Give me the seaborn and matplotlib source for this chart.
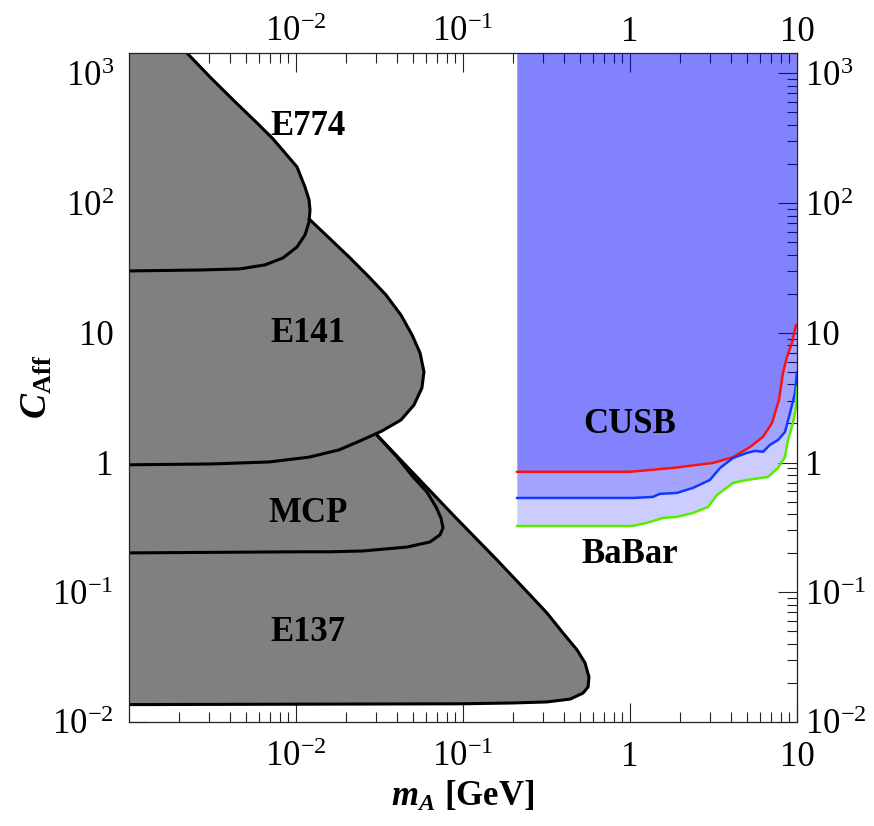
import numpy as np
import matplotlib
matplotlib.use("Agg")
import matplotlib.pyplot as plt
from matplotlib.transforms import ScaledTranslation
import seaborn as sns

# axis range
X_MIN, X_MAX = 1e-3, 10
Y_MIN, Y_MAX = 1e-2, 1.44e3

# ---- beam dump regions (boundary) ----
e774_m = [0.00222, 0.00305, 0.00420, 0.00584, 0.00728, 0.00859, 0.01014, 0.01132, 0.01197, 0.01213,
          0.01197, 0.01132, 0.01014, 0.00836, 0.00652, 0.00462, 0.00266, 0.001]
e774_c = [1440, 940, 625, 415, 313, 244, 190, 133, 106, 88.7,
          71.6, 56.9, 45.9, 37.8, 33.4, 31.1, 30.5, 30.0]

e141_m = [0.01197, 0.01578, 0.02076, 0.02733, 0.03457, 0.04254, 0.04955, 0.05531, 0.05838, 0.05675,
          0.05090, 0.04254, 0.03272, 0.02483, 0.01806, 0.01197, 0.00689, 0.00314, 0.001]
e141_c = [75.5, 53.9, 38.5, 27.0, 19.6, 13.7, 9.63, 7.0, 5.0, 3.76,
          2.78, 2.13, 1.75, 1.49, 1.25, 1.10, 1.01, 0.975, 0.96]

mcp_m = [0.0305, 0.0403, 0.0502, 0.0608, 0.0689, 0.0738, 0.0759, 0.0728, 0.0634, 0.0462, 0.0252, 0.0160, 0.0106, 0.001]
mcp_c = [1.63, 1.10, 0.774, 0.593, 0.455, 0.374, 0.313, 0.277, 0.244, 0.223, 0.208, 0.205, 0.205, 0.201]

e137_m = [0.0305, 0.0502, 0.0895, 0.160, 0.252, 0.318, 0.397, 0.482, 0.538, 0.568, 0.561, 0.524, 0.438, 0.318, 0.199, 0.100, 0.001]
e137_c = [1.63, 0.832, 0.381, 0.177, 0.0953, 0.0692, 0.0485, 0.0359, 0.0285, 0.0222, 0.0186, 0.0167, 0.0150, 0.01426, 0.0140, 0.0138, 0.0136]

# ---- collider limits ----
cusb_m = [0.21, 1.0, 1.81, 3.14, 4.14, 5.24, 6.26, 7.09, 7.80, 8.24, 8.71, 9.33, 9.86]
cusb_c = [0.848, 0.848, 0.908, 0.993, 1.10, 1.32, 1.58, 2.02, 3.04, 4.91, 6.52, 8.36, 11.5]

babar1_m = [0.21, 1.04, 1.37, 1.51, 1.91, 2.38, 3.01, 3.46, 4.14, 5.02, 5.61, 6.26, 6.89, 7.69, 8.47, 9.08, 9.73, 10.0]
babar1_c = [0.533, 0.533, 0.543, 0.573, 0.583, 0.637, 0.734, 0.908, 1.085, 1.186, 1.23, 1.21, 1.37, 1.49, 1.72, 2.41, 3.44, 5.0]

babar2_m = [0.21, 1.03, 1.26, 1.58, 1.91, 2.38, 2.93, 3.32, 4.14, 5.02, 6.70, 7.69, 8.47, 8.83, 9.46, 9.86, 10.0]
babar2_c = [0.324, 0.324, 0.342, 0.374, 0.381, 0.408, 0.454, 0.562, 0.696, 0.734, 0.774, 0.908, 1.10, 1.49, 2.02, 2.68, 3.83]

labels = ["E774", "E141", "MCP", "E137", "CUSB", "BaBar"]
label_m = [0.0118, 0.0118, 0.0118, 0.0118, 1.0, 1.0]
label_c = [387, 9.8, 0.408, 0.0485, 1.95, 0.194]

xticks = [1e-2, 1e-1, 1, 10]
xticklabels = [r"$10^{-2}$", r"$10^{-1}$", "1", "10"]
yticks = [1e-2, 1e-1, 1, 10, 1e2, 1e3]
yticklabels = [r"$10^{-2}$", r"$10^{-1}$", "1", "10", r"$10^{2}$", r"$10^{3}$"]

sns.set_theme(style="ticks")
plt.rcParams["font.family"] = ["Liberation Serif", "DejaVu Serif"]
plt.rcParams["mathtext.fontset"] = "custom"
plt.rcParams["mathtext.rm"] = "Liberation Serif"
plt.rcParams["mathtext.it"] = "Liberation Serif:italic"
plt.rcParams["mathtext.bf"] = "Liberation Serif:bold"
plt.rcParams["mathtext.bfit"] = "Liberation Serif:italic:bold"
for k in ["text.color", "axes.labelcolor", "xtick.color", "ytick.color", "axes.edgecolor"]:
    plt.rcParams[k] = "black"

fig = plt.figure(figsize=(8.74, 8.26), dpi=100)
ax = fig.add_axes([0.1476, 0.126, 0.7643, 0.81])

# gray regions: fill, closed along the left edge
gray = "#808080"
regions = [(e774_m, e774_c), (e141_m, e141_c), (mcp_m, mcp_c), (e137_m, e137_c)]
for m, c in regions:
    ax.fill(m + [X_MIN / 2, X_MIN / 2], c + [c[-1], max(c[0], Y_MAX * 2)], color=gray, lw=0, zorder=1)

for m, c in regions:
    sns.lineplot(x=m, y=c, sort=False, estimator=None, color="black", lw=2.2, ax=ax, zorder=3)

# blue regions: three overlapping translucent layers
for m, c in [(babar2_m, babar2_c), (babar1_m, babar1_c), (cusb_m, cusb_c)]:
    ax.fill_between(m, c, Y_MAX * 2, color=(0.0, 0.0, 0.98), alpha=0.2, lw=0, zorder=1)

sns.lineplot(x=cusb_m, y=cusb_c, sort=False, estimator=None, color="#ff1010", lw=1.8, ax=ax, zorder=4)
sns.lineplot(x=babar1_m, y=babar1_c, sort=False, estimator=None, color="#1038ff", lw=1.8, ax=ax, zorder=4)
sns.lineplot(x=babar2_m, y=babar2_c, sort=False, estimator=None, color="#55ee00", lw=1.8, ax=ax, zorder=4)

for t, m, c in zip(labels, label_m, label_c):
    ax.text(m, c, t, ha="center", va="center", fontsize=25, fontweight="bold", zorder=5)

ax.set_xscale("log")
ax.set_yscale("log")
ax.set_xlim(X_MIN, X_MAX)
ax.set_ylim(Y_MIN, Y_MAX)

ax.set_xticks(xticks)
ax.set_xticklabels(xticklabels)
ax.set_yticks(yticks)
ax.set_yticklabels(yticklabels)
ax.xaxis.set_minor_locator(matplotlib.ticker.LogLocator(base=10, subs=np.arange(2, 10), numticks=20))
ax.yaxis.set_minor_locator(matplotlib.ticker.LogLocator(base=10, subs=np.arange(2, 10), numticks=20))
ax.xaxis.set_minor_formatter(matplotlib.ticker.NullFormatter())
ax.yaxis.set_minor_formatter(matplotlib.ticker.NullFormatter())

ax.tick_params(which="both", direction="in", top=True, right=True, labeltop=True, labelright=True,
               labelsize=25, color="#222222", width=0.8)
ax.tick_params(which="major", length=14)
ax.tick_params(which="minor", length=7)
ax.tick_params(axis="x", which="major", pad=14)
ax.tick_params(axis="y", which="major", pad=11)
for s in ax.spines.values():
    s.set_linewidth(0.9)
    s.set_color("#222222")
    s.set_zorder(6)

# top and right labels sit a little closer to the frame
for t in ax.xaxis.get_major_ticks():
    t.label2.set_transform(t.label2.get_transform() + ScaledTranslation(0, -11 / 72, fig.dpi_scale_trans))
for t in ax.yaxis.get_major_ticks():
    t.label2.set_transform(t.label2.get_transform() + ScaledTranslation(-5 / 72, 0, fig.dpi_scale_trans))

ax.set_xlabel(r"$\mathbfit{m}_{\mathbfit{A}}$ [GeV]", fontsize=25, fontweight="bold", labelpad=4)
ax.set_ylabel(r"$\mathbfit{C}_{\mathbf{Aff}}$", fontsize=27, labelpad=-2)

fig.savefig("out.png", dpi=100)
